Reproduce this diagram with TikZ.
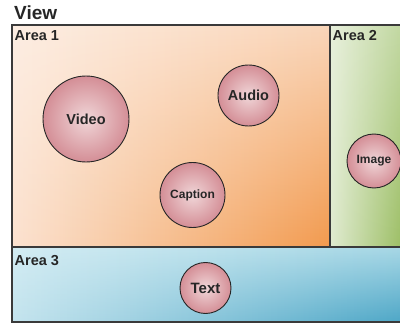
\documentclass[tikz,border=0pt]{standalone}
\usepackage{fontspec}
\setmainfont{Liberation Sans}
\usetikzlibrary{fadings}

\definecolor{inkcol}{HTML}{262626}
\definecolor{framecol}{HTML}{3A3A3A}
% area one: pale peach to orange
\definecolor{aOneTL}{HTML}{FDEEE3}
\definecolor{aOneTR}{HTML}{FAD6BA}
\definecolor{aOneBL}{HTML}{FBE2D0}
\definecolor{aOneBR}{HTML}{F29A4E}
% area two: pale green to green
\definecolor{aTwoTL}{HTML}{E8F0DC}
\definecolor{aTwoTR}{HTML}{C2D8A2}
\definecolor{aTwoBL}{HTML}{E0EBD0}
\definecolor{aTwoBR}{HTML}{9DBF66}
% area three: light blue to blue
\definecolor{aThrTL}{HTML}{D3ECF3}
\definecolor{aThrTR}{HTML}{A8D8E6}
\definecolor{aThrBL}{HTML}{C4E4EE}
\definecolor{aThrBR}{HTML}{4EA7C7}
% element bubbles
\definecolor{bubIn}{HTML}{F0D6D8}
\definecolor{bubOut}{HTML}{D48E96}

\tikzset{
  bubble/.style={circle, draw=black!85, line width=0.9pt,
    inner color=bubIn, outer color=bubOut, inner sep=0pt,
    text=inkcol, font=\bfseries},
  arealabel/.style={anchor=base west, inner sep=0pt, text=inkcol,
    font=\bfseries\fontsize{14.5}{16}\selectfont},
  frameline/.style={draw=framecol, line width=1.4pt}
}

\begin{document}
\begin{tikzpicture}[x=1pt, y=-1pt]
\useasboundingbox (0,0) rectangle (400,324);

% Area 1 background
\shade[left color=aOneTL, right color=aOneTR] (12,25) rectangle (330,247);
\shade[left color=aOneBL, right color=aOneBR, path fading=north] (12,25) rectangle (330,247);
% Area 2 background
\shade[left color=aTwoTL, right color=aTwoTR] (330,25) rectangle (401,247);
\shade[left color=aTwoBL, right color=aTwoBR, path fading=north] (330,25) rectangle (401,247);
% Area 3 background
\shade[left color=aThrTL, right color=aThrTR] (12,247) rectangle (401,322);
\shade[left color=aThrBL, right color=aThrBR, path fading=north] (12,247) rectangle (401,322);

% frame and dividers
\draw[frameline] (402,25) -- (12,25) -- (12,322) -- (402,322);
\draw[frameline] (330,25) -- (330,247);
\draw[frameline] (12,247) -- (402,247);

% titles
\node[anchor=base west, inner sep=0pt, text=inkcol,
      font=\bfseries\fontsize{19}{21}\selectfont] (view) at (14,19.5) {View};
\node[arealabel] (area1) at (14.5,41) {Area 1};
\node[arealabel] (area2) at (332.5,41) {Area 2};
\node[arealabel] (area3) at (14.5,265) {Area 3};

% elements
\node[bubble, minimum size=86pt, font=\bfseries\fontsize{14.5}{16}\selectfont] (video) at (86,119) {Video};
\node[bubble, minimum size=61pt, font=\bfseries\fontsize{14.5}{16}\selectfont] (audio) at (248.5,95.5) {Audio};
\node[bubble, minimum size=65pt, font=\bfseries\fontsize{12}{13}\selectfont] (caption) at (192.5,195) {Caption};
\node[bubble, minimum size=54pt, font=\bfseries\fontsize{12}{13}\selectfont] (image) at (374,161) {Image};
\node[bubble, minimum size=51pt, font=\bfseries\fontsize{15}{17}\selectfont] (text) at (205.5,288) {Text};
\end{tikzpicture}
\end{document}
